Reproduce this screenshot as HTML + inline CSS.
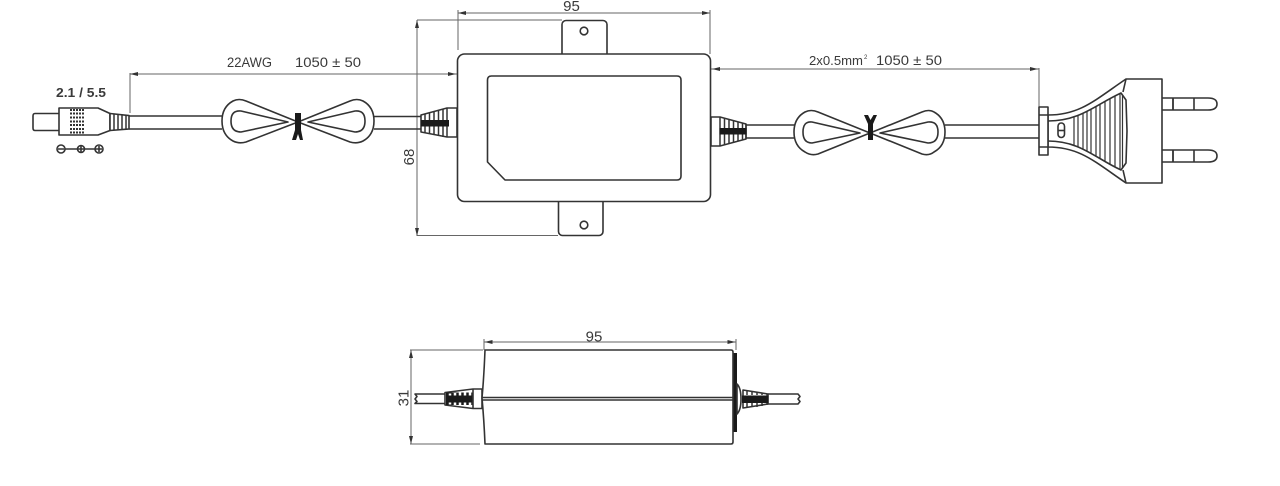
<!DOCTYPE html>
<html>
<head>
<meta charset="utf-8">
<style>
html,body{margin:0;padding:0;background:#fff;width:1280px;height:486px;overflow:hidden}
svg{display:block}
text{font-family:"Liberation Sans","DejaVu Sans",sans-serif;fill:#3a3a3a}
.o{fill:none;stroke:#333;stroke-width:1.6;stroke-linejoin:round}
.w{fill:#fff;stroke:#333;stroke-width:1.6;stroke-linejoin:round}
.d{fill:none;stroke:#666;stroke-width:1}
.a{fill:#333;stroke:none}
.r{fill:none;stroke:#333;stroke-width:1.5}
.b{fill:#1a1a1a;stroke:none}
</style>
</head>
<body>
<svg width="1280" height="486" viewBox="0 0 1280 486" xmlns="http://www.w3.org/2000/svg">
<defs>
<clipPath id="hc"><path d="M1048 121 C1080 121 1095 105 1121 93 L1126 100 L1126 163 L1121 170 C1095 158 1080 141 1048 141 Z"/></clipPath>
</defs>

<!-- Dimensions top view -->
<path class="d" d="M458 10V50M710 10V54M458 13H710M417 20V236M417 20H562M417 235.500H558M130 73V113M130 74H457M711 69H1039M1039 68V108"/>
<path class="a" d="M458 13l8-2v4zM710 13l-8-2v4zM417 20l-2 8h4zM417 236l-2-8h4zM130 74l8-2v4zM456 74l-8-2v4zM712 69l8-2v4zM1038 69l-8-2v4z"/>
<text x="571.500" y="11" font-size="15" text-anchor="middle">95</text>
<text transform="translate(414,157) rotate(-90)" font-size="15" text-anchor="middle">68</text>
<text x="227" y="67" font-size="13.500" textLength="45" lengthAdjust="spacingAndGlyphs">22AWG</text>
<text x="295" y="67" font-size="13.500" textLength="66" lengthAdjust="spacingAndGlyphs">1050 ± 50</text>
<text x="809" y="65" font-size="13" textLength="54" lengthAdjust="spacingAndGlyphs">2x0.5mm</text>
<text x="864" y="59" font-size="6">2</text>
<text x="876" y="65" font-size="13.500" textLength="66" lengthAdjust="spacingAndGlyphs">1050 ± 50</text>
<text x="56" y="97" font-size="13" font-weight="bold" textLength="50" lengthAdjust="spacingAndGlyphs">2.1 / 5.5</text>

<!-- DC plug -->
<path class="o" d="M59 113.500H35Q33 113.500 33 116V128Q33 130.500 35 130.500H59"/>
<path class="w" d="M59 108H98L110 113.500V130.500L98 135H59Z"/>
<path d="M70 110H84M70 113.500H84M70 117.500H84M70 121.500H84M70 125H84M70 129H84M70 132.500H84" fill="none" stroke="#333" stroke-width="2" stroke-dasharray="2 1"/>
<path class="w" d="M110 113.500L129 115.500V129L110 130.500Z"/>
<path class="r" d="M114 114V130M118 114.500V130M122 115V129.500M126 115V129.500" stroke-width="2"/>
<path class="o" d="M129 116H222M129 129H222"/>
<circle class="o" cx="61" cy="149" r="4"/>
<circle class="o" cx="81" cy="149" r="3.500"/>
<circle class="o" cx="99" cy="149" r="4"/>
<path class="o" d="M58 149H64M65 149H96M96 149H102M99 146V152M81 146V152"/>

<!-- Left loop -->
<path class="w" d="M298 122L246 101Q239 98 233 101Q222 107 222 121Q222 135 233 141Q239 144 246 142L298 122L350 101Q357 98 363 101Q374 107 374 121Q374 135 363 141Q357 144 350 142Z"/>
<path class="o" d="M288 122L241 111Q231 110 231 121Q231 132 241 132L288 122ZM308 122L355 111Q365 110 365 121Q365 132 355 132L308 122Z"/>
<path class="b" d="M295 113H301V130L303 140H300L298 134L296 140H292L295 130Z"/>

<!-- Left strain relief -->
<path class="o" d="M374 116.500H421M374 129H421"/>
<path class="w" d="M421 115L447 108H457V137H447L421 132Z"/>
<path class="r" d="M425 114V133M429.500 113V134M434 112V135M438.500 110.500V136M443 109V137M447 108V137" stroke-width="2.200"/>
<rect class="b" x="421" y="120" width="28" height="6.500"/>

<!-- Main box -->
<rect class="w" x="562" y="20.500" width="45" height="40" rx="4"/>
<rect class="w" x="558.500" y="195" width="44.500" height="40.500" rx="4"/>
<rect class="w" x="457.500" y="54" width="253" height="147.500" rx="7"/>
<path class="o" d="M491.500 76H677Q681 76 681 80V176Q681 180 677 180H505L487.500 162V80Q487.500 76 491.500 76Z"/>
<circle class="o" cx="584" cy="31" r="3.800"/>
<circle class="o" cx="584" cy="225" r="3.800"/>

<!-- Right strain relief -->
<path class="w" d="M711 117H720L746 124V139L720 146H711Z"/>
<path class="r" d="M720 117.500V146M724.500 118.500V145M729 120V144M733.500 121V143M738 122V141M742.500 123V140M746 124V139" stroke-width="2.200"/>
<rect class="b" x="719.500" y="128" width="27" height="6.500"/>
<path class="o" d="M746 125H795M746 138H795"/>

<!-- Right loop -->
<path class="w" d="M870 133L818 112Q811 109 805 112Q794 118 794 132Q794 146 805 152Q811 156 818 154L870 133L922 112Q929 109 934 112Q945 118 945 132Q945 146 934 152Q929 156 922 154Z"/>
<path class="o" d="M860 133L812 122Q803 121 803 132Q803 143 812 143L860 133ZM880 133L928 122Q938 121 938 132Q938 143 928 143L880 133Z"/>
<path class="b" d="M868 140H873V124L877 115H873.500L870.500 120L868 115H864L868 124Z"/>

<!-- Cable to plug -->
<path class="o" d="M945 125H1039M945 138H1039"/>

<!-- Euro plug -->
<path class="o" d="M1162 98H1173V110H1162M1173 98H1208Q1217 98 1217 104Q1217 110 1208 110H1173M1194 98V110M1162 150H1173V162H1162M1173 150H1208Q1217 150 1217 156Q1217 162 1208 162H1173M1194 150V162"/>
<path class="r" d="M1173 98V110M1173 150V162" stroke-width="1.800"/>
<path class="w" d="M1048 115C1080 115 1095 100 1126 79H1162V183H1126C1095 162 1080 147 1048 147Z"/>
<path class="o" d="M1126 79L1123 92M1126 183L1123 170M1048 121C1080 121 1095 105 1121 93L1126 100L1127 131L1126 163L1121 170C1095 158 1080 141 1048 141"/>
<g clip-path="url(#hc)">
<path d="M1074 105V160M1078 105V160M1083 105V160M1087 105V160M1091 100V165M1096 100V165M1100 95V170M1105 95V170M1110 90V175M1115 90V175M1120 90V175M1122.500 90V175" stroke="#333" stroke-width="1.200" fill="none"/>
</g>
<rect class="w" x="1058" y="123" width="6.500" height="14.500" rx="3.200"/>
<path class="o" d="M1058 130.500H1064.500"/>
<rect class="w" x="1039" y="107" width="9" height="48"/>
<path class="o" d="M1039 115H1048M1039 147H1048"/>

<!-- Side view -->
<path class="d" d="M484 339V350M736 339V350M484 342H736M411 350V444M410 350H483M410 444H480"/>
<path class="a" d="M484.500 342l8-2v4zM735.500 342l-8-2v4zM411 350l-2 8h4zM411 444l-2-8h4z"/>
<text x="594" y="341.500" font-size="15" text-anchor="middle">95</text>
<text transform="translate(408.500,398) rotate(-90)" font-size="15" text-anchor="middle">31</text>

<path class="o" d="M445 394H415L417 396.500L415 399L417 401.500L415 403.500H445"/>
<path class="w" d="M445 392.500L473 389H482V408.500H473L445 405Z"/>
<rect class="b" x="446" y="392.500" width="27" height="12.500"/>
<path d="M450 393.500V395.500M455 393V395.500M460 392.500V395.500M465 392V395.500M470 391.500V395.500M450 402.500V404.500M455 402.500V405M460 402.500V405.500M465 402.500V406M470 402.500V406.500" stroke="#fff" stroke-width="2.500" fill="none"/>
<path class="o" d="M473 389V408.500"/>

<rect class="b" x="732.500" y="353" width="4.500" height="79"/>
<path class="w" d="M485 350H731Q733 350 733 352L733 397L733 442Q733 444 731 444H485Q484 420 482 398Q484 376 485 350Z"/>
<path d="M482 397.500H733" stroke="#333" stroke-width="1.600" fill="none"/>
<path d="M482 400H733" stroke="#333" stroke-width="1.600" fill="none"/>
<path class="w" d="M737 384Q741 388 741 399Q741 410 737 414Z"/>
<path class="w" d="M743 390L768 394V404L743 408Z"/>
<rect class="b" x="742" y="395.500" width="26.500" height="7.500"/>
<path class="r" d="M747 391V395M752 392V395M757 392V395M762 393V395M767 394V396M747 403V408M752 403V407M757 403V407M762 403V406M767 403V405" stroke-width="1.500"/>
<path class="o" d="M768 394H798L800 396.500L798 399L800 401.500L798 404H768"/>
</svg>
</body>
</html>
